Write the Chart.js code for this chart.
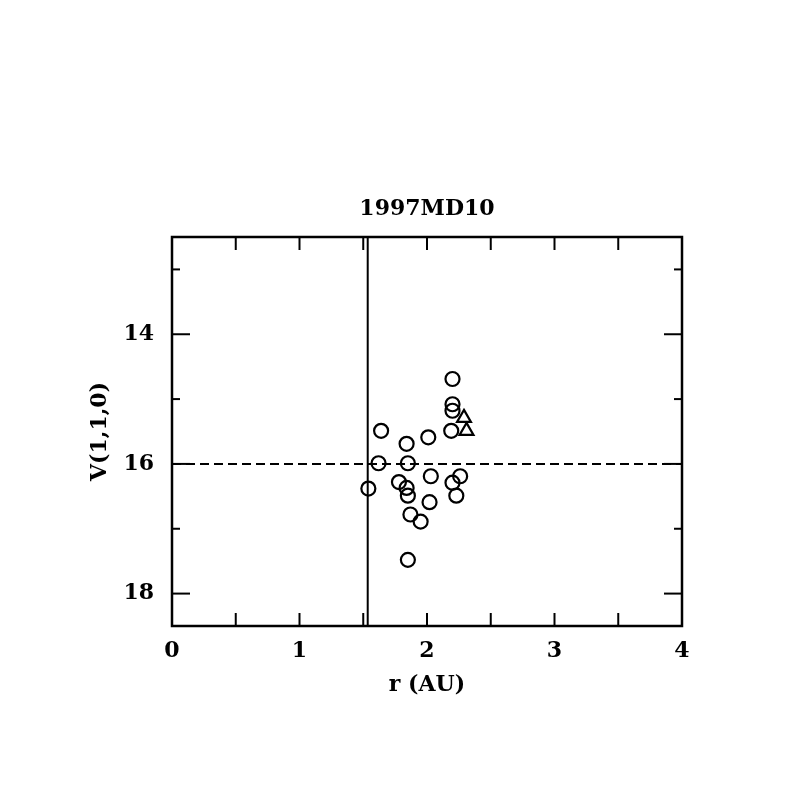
<!DOCTYPE html>
<html>
<head>
<meta charset="utf-8">
<script src="https://cdn.jsdelivr.net/npm/chart.js@4.4.0/dist/chart.umd.min.js"></script>
<style>
  html, body { margin: 0; padding: 0; background: #fff; }
  #wrap { width: 797px; height: 797px; }
</style>
</head>
<body>
<div id="wrap"><canvas id="c" width="797" height="797"></canvas></div>
<script>
// 1997MD10: reduced magnitude vs heliocentric distance
const circleR = [2.20, 2.20, 2.20, 2.19, 1.64, 2.01, 1.84, 1.62, 1.85, 2.03, 2.26,
                 2.20, 1.78, 1.84, 1.54, 1.85, 2.23, 2.02, 1.87, 1.95, 1.85];
const circleV = [14.69, 15.08, 15.18, 15.49, 15.49, 15.59, 15.69, 15.99, 15.99, 16.19, 16.19,
                 16.29, 16.28, 16.37, 16.38, 16.49, 16.49, 16.59, 16.78, 16.89, 17.48];
const triR = [2.29, 2.31];
const triV = [15.29, 15.49];

const perihelionR = 1.535;  // solid vertical line
const meanV = 16;           // dashed horizontal line

const xRange = [0, 4];
const yRange = [12.5, 18.5];
const xMajor = [0, 1, 2, 3, 4];
const xMinor = [0.5, 1.5, 2.5, 3.5];
const yMajor = [14, 16, 18];
const yMinor = [13, 15, 17];

const FAMILY = '"DejaVu Serif", serif';
const TICK_FONT = { family: FAMILY, size: 22, weight: "bold" };
const LABEL_FONT = { family: FAMILY, size: 22, weight: "bold" };

const pts = (xs, ys) => xs.map((x, i) => ({ x, y: ys[i] }));

// ticks point into the plot on all four sides, like the original frame
const frameTicks = {
  id: "frameTicks",
  afterDatasetsDraw(chart) {
    const { ctx, chartArea: a, scales: { x, y } } = chart;
    ctx.save();
    ctx.strokeStyle = "#000";
    ctx.lineWidth = 2.5;
    ctx.strokeRect(a.left, a.top, a.right - a.left, a.bottom - a.top);
    ctx.lineWidth = 2;
    const seg = (x0, y0, x1, y1) => {
      ctx.beginPath(); ctx.moveTo(x0, y0); ctx.lineTo(x1, y1); ctx.stroke();
    };
    const xt = (vals, len) => vals.forEach((v) => {
      const px = x.getPixelForValue(v);
      seg(px, a.bottom, px, a.bottom - len);
      seg(px, a.top, px, a.top + len);
    });
    const yt = (vals, len) => vals.forEach((v) => {
      const py = y.getPixelForValue(v);
      seg(a.left, py, a.left + len, py);
      seg(a.right, py, a.right - len, py);
    });
    xt(xMajor, 13); xt(xMinor, 13);
    yt(yMajor, 18); yt(yMinor, 8);
    ctx.restore();
  },
};

new Chart(document.getElementById("c"), {
  type: "scatter",
  data: {
    datasets: [
      {
        data: pts([perihelionR, perihelionR], yRange),
        showLine: true, borderColor: "#000", borderWidth: 2, pointRadius: 0,
      },
      {
        data: pts(xRange, [meanV, meanV]),
        showLine: true, borderColor: "#000", borderWidth: 2, borderDash: [9, 5], pointRadius: 0,
      },
      {
        data: pts(circleR, circleV),
        pointStyle: "circle", pointRadius: 7, borderWidth: 2.2,
        borderColor: "#000", backgroundColor: "rgba(0,0,0,0)",
      },
      {
        data: pts(triR, triV),
        pointStyle: "triangle", pointRadius: 8, borderWidth: 2.2,
        borderColor: "#000", backgroundColor: "rgba(0,0,0,0)",
      },
    ],
  },
  options: {
    responsive: false,
    animation: false,
    layout: { padding: { top: 0, right: 115, bottom: 0, left: 0 } },
    plugins: {
      legend: { display: false },
      tooltip: { enabled: false },
      title: {
        display: true,
        text: "1997MD10",
        color: "#000",
        font: { family: FAMILY, size: 22, weight: "bold" },
        fullSize: false,
        padding: { top: 196, bottom: 14.6 },
      },
    },
    scales: {
      x: {
        type: "linear",
        position: "bottom",
        min: xRange[0], max: xRange[1],
        afterBuildTicks: (s) => { s.ticks = xMajor.map((v) => ({ value: v })); },
        afterFit: (s) => { s.height = 171; },
        ticks: { font: TICK_FONT, color: "#000", padding: 12, maxRotation: 0 },
        grid: { display: false, drawTicks: false },
        border: { display: false },
        title: {
          display: true, text: "r (AU)", color: "#000", font: LABEL_FONT,
          padding: { top: 0, bottom: 99 },
        },
      },
      y: {
        type: "linear",
        position: "left",
        reverse: true,
        min: yRange[0], max: yRange[1],
        afterBuildTicks: (s) => { s.ticks = yMajor.map((v) => ({ value: v })); },
        afterFit: (s) => { s.width = 172; },
        ticks: { font: TICK_FONT, color: "#000", padding: 18 },
        grid: { display: false, drawTicks: false },
        border: { display: false },
        title: {
          display: true, text: "V(1,1,0)", color: "#000", font: LABEL_FONT,
          padding: { top: 87, bottom: 0 },
        },
      },
    },
  },
  plugins: [frameTicks],
});
</script>
</body>
</html>
